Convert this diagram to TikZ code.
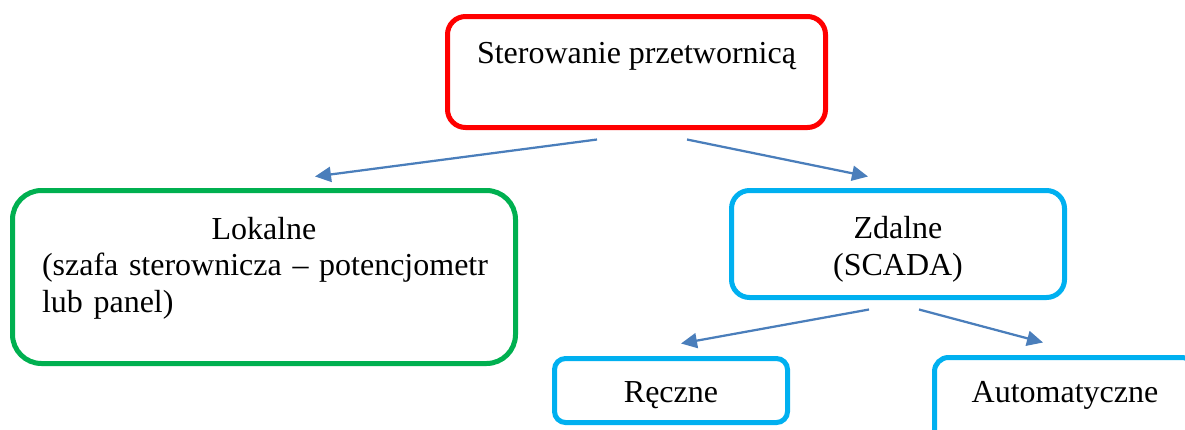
\documentclass[tikz,border=0pt]{standalone}
\usepackage{fontspec}
\setmainfont{Liberation Serif}
\usetikzlibrary{arrows.meta}
\definecolor{boxred}{HTML}{FF0000}
\definecolor{boxgreen}{HTML}{00B050}
\definecolor{boxcyan}{HTML}{00B0F0}
\definecolor{linkblue}{HTML}{4A7EBB}

\begin{document}
\begin{tikzpicture}[x=1pt,y=-1pt,
	box/.style={draw,rectangle,line width=5pt,inner sep=0pt,align=center,
		font=\fontsize{32}{36.5}\selectfont},
	every edge/.style={draw=linkblue,fill=linkblue,line width=2.25pt,
		-{Triangle[length=16pt,width=15pt]}}]
	\useasboundingbox (0,0) rectangle (1185,429);
	\clip (0,0) rectangle (1185,429);

			\node[box,draw=boxred,rounded corners=18pt,minimum width=378pt,
				text height=46.5pt,text depth=64.5pt]  (ster) at (636.5,72) {Sterowanie przetwornicą};
			\node[box,draw=boxgreen,rounded corners=29pt,minimum width=503pt,
				text width=444pt,align=left,text height=48.5pt,text depth=124.5pt] (lok) at (264,277)
				{\makebox[\linewidth]{Lokalne}\\\mbox{(szafa sterownicza – potencjometr}\\lub panel)};
			\node[box,draw=boxcyan,rounded corners=18pt,minimum width=333pt,
				text height=84.5pt,text depth=22.5pt]  (zdal) at (898,244) {Zdalne\\(SCADA)};
			\node[box,draw=boxcyan,rounded corners=11pt,minimum width=233pt,
				text height=43.5pt,text depth=20.5pt]  (recz) at (671,390.5) {Ręczne};
			\node[box,draw=boxcyan,rounded corners=14pt,minimum width=261pt,
				text height=44.5pt,text depth=40pt]    (auto) at (1065,399.75) {Automatyczne};

			\path ([xshift=-39.5pt,yshift=-9.5pt]ster.south) edge ([xshift=51pt,yshift=11.5pt]lok.north)
			      ([xshift=50.5pt,yshift=-9.5pt]ster.south)  edge ([xshift=-30pt,yshift=11.5pt]zdal.north)
			      ([xshift=-29pt,yshift=-9.5pt]zdal.south)   edge ([xshift=10pt,yshift=12.5pt]recz.north)
			      ([xshift=21pt,yshift=-9.5pt]zdal.south)    edge ([xshift=-22pt,yshift=12.5pt]auto.north);
\end{tikzpicture}
\end{document}
